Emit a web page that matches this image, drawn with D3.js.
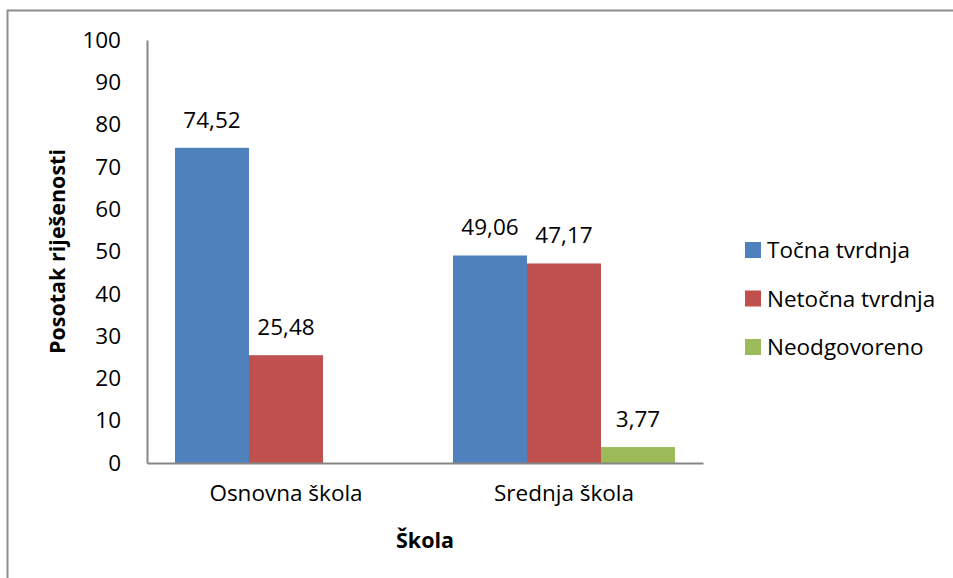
<!DOCTYPE html>
<html>
<head>
<meta charset="utf-8">
<script src="https://cdn.jsdelivr.net/npm/d3@7"></script>
<style>
  body { margin: 0; background: #fff; }
  text { font-family: "Open Sans", "Noto Sans", sans-serif; fill: #000; }
</style>
</head>
<body>
<div id="chart"></div>
<script>
// podaci
const skole = ["Osnovna škola", "Srednja škola"];
const serije = ["Točna tvrdnja", "Netočna tvrdnja", "Neodgovoreno"];
const tocna = [74.52, 49.06];
const netocna = [25.48, 47.17];
const neodgovoreno = [null, 3.77];
const yTicks = [0, 10, 20, 30, 40, 50, 60, 70, 80, 90, 100];
const boje = ["#4F81BD", "#C0504D", "#9BBB59"];

const vrijednosti = [tocna, netocna, neodgovoreno];

const W = 953, H = 578;
const fs = 22.5;
const svg = d3.select("#chart").append("svg")
  .attr("width", W).attr("height", H);

// okvir
svg.append("rect")
  .attr("x", 7.5).attr("y", 10.5)
  .attr("width", W + 20).attr("height", H + 20)
  .attr("fill", "none").attr("stroke", "#8c8c8c").attr("stroke-width", 2);

const pLeft = 147, pRight = 703, pTop = 40, pBottom = 463;

const x0 = d3.scaleBand().domain(skole).range([pLeft, pRight]).paddingInner(0.2).paddingOuter(0.1);
const y = d3.scaleLinear().domain([0, 100]).range([pBottom, pTop]);

// stupci
skole.forEach((s, i) => {
  const bw = 74;
  const start = x0(s) + x0.bandwidth() / 2 - bw * 1.5;
  vrijednosti.forEach((serija, j) => {
    const v = serija[i];
    if (v == null) return;
    svg.append("rect")
      .attr("x", start + j * bw)
      .attr("y", y(v))
      .attr("width", bw)
      .attr("height", y(0) - y(v))
      .attr("fill", boje[j]);
    svg.append("text")
      .attr("x", start + j * bw + bw / 2)
      .attr("y", y(v) - 20)
      .attr("text-anchor", "middle")
      .attr("font-size", fs)
      .text(d3.format(".2f")(v).replace(".", ","));
  });
});

// osi
const yAxis = svg.append("g")
  .attr("transform", `translate(${pLeft},0)`)
  .call(d3.axisLeft(y).tickValues(yTicks).tickSize(0).tickPadding(26));
yAxis.select(".domain").attr("stroke", "#868686").attr("stroke-width", 2);
yAxis.selectAll("text").attr("font-size", fs).style("font-family", "Open Sans");

const xAxis = svg.append("g")
  .attr("transform", `translate(0,${pBottom})`)
  .call(d3.axisBottom(x0).tickSize(0).tickPadding(22).tickSizeOuter(0));
xAxis.select(".domain").attr("stroke", "#868686").attr("stroke-width", 2);
xAxis.selectAll("text").attr("font-size", fs).style("font-family", "Open Sans");

// naslovi osi
svg.append("text")
  .attr("transform", `translate(65,${(pTop + pBottom) / 2}) rotate(-90)`)
  .attr("text-anchor", "middle")
  .attr("font-size", 21.5).attr("font-weight", "bold")
  .text("Posotak riješenosti");

svg.append("text")
  .attr("x", 425).attr("y", 548)
  .attr("text-anchor", "middle")
  .attr("font-size", 21.5).attr("font-weight", "bold")
  .text("Škola");

// legenda
const leg = svg.append("g");
serije.forEach((s, j) => {
  const cy = 250 + j * 48.5;
  leg.append("rect")
    .attr("x", 745).attr("y", cy - 8)
    .attr("width", 16).attr("height", 16)
    .attr("fill", boje[j]);
  leg.append("text")
    .attr("x", 767).attr("y", cy + 8)
    .attr("font-size", fs)
    .text(s);
});
</script>
</body>
</html>
